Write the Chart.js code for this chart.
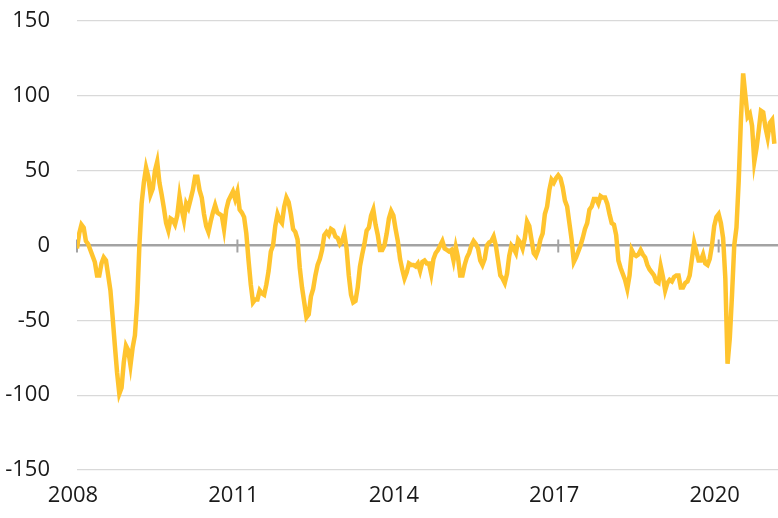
<!DOCTYPE html>
<html>
<head>
<meta charset="utf-8">
<script src="https://cdn.jsdelivr.net/npm/chart.js@4.4.0/dist/chart.umd.min.js"></script>
<style>
  html, body { margin: 0; padding: 0; background: #ffffff; }
  #wrap { width: 778px; height: 518px; position: relative; }
</style>
</head>
<body>
<div id="wrap"><canvas id="c"></canvas></div>
<script>
// Semi-monthly observations starting January 2008 (24 per year)
const startYear = 2008;
const pointsPerYear = 24;

const values = [
  // 2008
  -2, 8, 14, 12, 3, 1, -3, -7, -11, -20, -20, -12, -8, -10, -20, -30, -48, -67, -85, -99, -95, -78, -67, -70,
  // 2009
  -80, -68, -60, -38, 0, 28, 42, 52, 46, 34, 38, 50, 56, 42, 34, 25, 15, 10, 18, 17, 14, 20, 33, 24,
  // 2010
  17, 28, 25, 31, 37, 46, 46, 37, 32, 21, 13, 9, 16, 22, 27, 22, 21, 20, 11, 24, 30, 33, 36, 31,
  // 2011
  36, 24, 22, 19, 8, -10, -26, -38, -36, -36, -30, -32, -33, -26, -17, -4, 0, 13, 21, 17, 15, 26, 32, 29,
  // 2012
  21, 11, 9, 4, -15, -28, -38, -48, -46, -34, -29, -20, -13, -9, -3, 7, 9, 7, 11, 10, 6, 5, 1, 3,
  // 2013
  8, -2, -20, -33, -38, -37, -28, -14, -6, 1, 10, 12, 20, 24, 14, 7, -3, -3, 0, 8, 18, 23, 20, 11,
  // 2014
  3, -9, -16, -22, -18, -12, -13, -13, -14, -12, -17, -11, -10, -12, -12, -19, -9, -5, -3, 0, 3, -2, -3, -4,
  // 2015
  -3, -10, -1, -8, -20, -20, -13, -8, -5, 0, 3, 1, -2, -10, -13, -9, 0, 2, 3, 6, 0, -10, -20, -22,
  // 2016
  -25, -19, -7, 0, -2, -5, 4, 2, -2, 5, 16, 13, 4, -5, -7, -3, 4, 8, 21, 26, 37, 44, 42, 45,
  // 2017
  47, 45, 39, 30, 26, 15, 4, -11, -8, -4, 0, 5, 11, 15, 24, 26, 31, 31, 28, 33, 32, 32, 28, 21,
  // 2018
  15, 14, 7, -10, -15, -19, -23, -29, -20, -3, -6, -7, -6, -3, -6, -8, -13, -16, -18, -20, -24, -25, -14, -21,
  // 2019
  -30, -25, -23, -24, -21, -20, -20, -28, -28, -25, -24, -20, -9, 2, -4, -10, -10, -6, -12, -13, -9, 0, 13, 19,
  // 2020
  21, 15, 5, -22, -79, -62, -33, 0, 12, 43, 84, 115, 100, 86, 88, 80, 56, 65, 77, 90, 89, 79, 72, 82,
  // 2021
  84, 68
];

const tickYears = [2008, 2011, 2014, 2017, 2020];
const yTicks = [-150, -100, -50, 0, 50, 100, 150];

const points = values.map((v, i) => ({ x: startYear + i / pointsPerYear, y: v }));

const zeroTicks = {
  id: 'zeroTicks',
  beforeDatasetsDraw(chart) {
    const { ctx, scales: { x, y } } = chart;
    const y0 = y.getPixelForValue(0);
    ctx.save();
    ctx.strokeStyle = '#a3a3a3';
    ctx.lineWidth = 2;
    tickYears.forEach(v => {
      const px = x.getPixelForValue(v);
      ctx.beginPath();
      ctx.moveTo(px, y0 - 6);
      ctx.lineTo(px, y0 + 7);
      ctx.stroke();
    });
    ctx.restore();
  }
};

new Chart(document.getElementById('c'), {
  type: 'line',
  data: {
    datasets: [{
      data: points,
      borderColor: '#FFC42E',
      borderWidth: 4.5,
      pointRadius: 0,
      tension: 0,
      fill: false
    }]
  },
  options: {
    responsive: true,
    maintainAspectRatio: false,
    animation: false,
    devicePixelRatio: 1,
    layout: { padding: { top: 21, right: 0, left: 0, bottom: 0 } },
    plugins: { legend: { display: false }, tooltip: { enabled: false } },
    scales: {
      x: {
        type: 'linear',
        min: 2008,
        max: 2021.11,
        afterBuildTicks: (s) => { s.ticks = tickYears.map(v => ({ value: v })); },
        afterFit: (s) => { s.height = 48; },
        grid: { display: false, drawTicks: false },
        border: { display: false },
        ticks: {
          callback: (v) => String(v),
          font: { family: '"Open Sans", sans-serif', size: 22 },
          color: '#1a1a1a',
          padding: 13,
          labelOffset: -4,
          maxRotation: 0,
          autoSkip: false
        }
      },
      y: {
        min: -150,
        max: 150,
        afterBuildTicks: (s) => { s.ticks = yTicks.map(v => ({ value: v })); },
        afterFit: (s) => { s.width = 77; },
        grid: {
          drawTicks: true,
          tickLength: 27,
          tickColor: 'rgba(0,0,0,0)',
          color: (c) => c.tick && c.tick.value === 0 ? '#a3a3a3' : '#d9d9d9',
          lineWidth: (c) => c.tick && c.tick.value === 0 ? 2.5 : 1.3
        },
        border: { display: false },
        ticks: {
          callback: (v) => String(v),
          font: { family: '"Open Sans", sans-serif', size: 22 },
          color: '#1a1a1a',
          padding: 0
        }
      }
    }
  },
  plugins: [zeroTicks]
});
</script>
</body>
</html>
